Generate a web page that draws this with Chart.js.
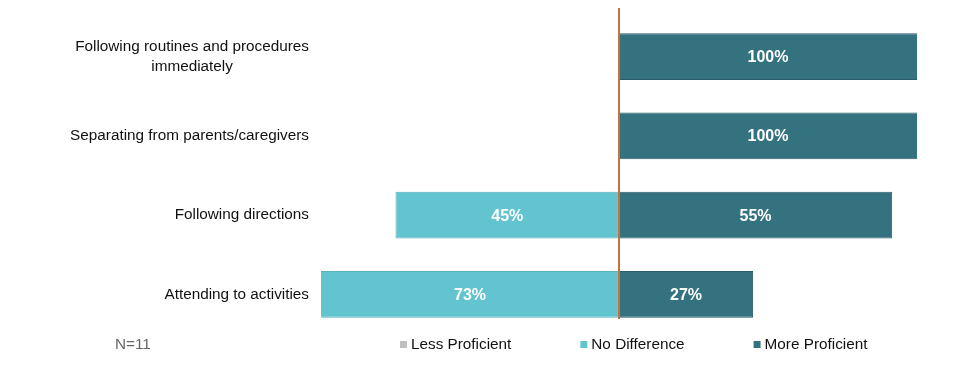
<!DOCTYPE html>
<html>
<head>
<meta charset="utf-8">
<script src="https://cdn.jsdelivr.net/npm/chart.js@4.4.1/dist/chart.umd.min.js"></script>
<style>
  html, body { margin: 0; padding: 0; background: #fff; }
  #wrap { width: 971px; height: 384px; }
</style>
</head>
<body>
<div id="wrap"><canvas id="chart" width="971" height="384"></canvas></div>
<script>
const categories = [
    ['Following routines and procedures', 'immediately'],
    'Separating from parents/caregivers',
    'Following directions',
    'Attending to activities',
];
const lessProficient = [0, 0, 0, 0];
const noDifference = [0, 0, 45, 73];
const moreProficient = [100, 100, 55, 27];
const sampleNote = 'N=11';

const FONT = '"Liberation Sans", Arial, sans-serif';
const colors = {
    less: '#BFBFBF',
    noDiff: '#62C4CF',
    noDiffBorder: '#55B3BF',
    more: '#347280',
    moreBorder: '#2A5D6A',
    zeroLine: '#C8703C',
};

// category labels drawn beside the bars (multi-line label centred on itself)
const categoryLabels = {
    id: 'categoryLabels',
    afterDraw(chart) {
        const { ctx, chartArea, scales: { y } } = chart;
        const right = chartArea.left - 12;
        ctx.save();
        ctx.font = '15.3px ' + FONT;
        ctx.fillStyle = '#111';
        ctx.textBaseline = 'middle';
        chart.data.labels.forEach((label, i) => {
            const yc = y.getPixelForValue(i);
            if (Array.isArray(label)) {
                const widest = Math.max(...label.map(l => ctx.measureText(l).width));
                ctx.textAlign = 'center';
                const lineH = 20;
                const top = yc - (label.length - 1) * lineH / 2;
                label.forEach((line, j) => ctx.fillText(line, right - widest / 2, top + j * lineH));
            } else {
                ctx.textAlign = 'right';
                ctx.fillText(label, right, yc);
            }
        });
        ctx.restore();
    }
};

// zero line and value labels on top of the bars
const barExtras = {
    id: 'barExtras',
    afterDatasetsDraw(chart) {
        const { ctx, chartArea, scales: { x } } = chart;
        ctx.save();
        const x0 = x.getPixelForValue(0);
        ctx.strokeStyle = colors.zeroLine;
        ctx.lineWidth = 2;
        ctx.beginPath();
        ctx.moveTo(x0, 8);
        ctx.lineTo(x0, 319);
        ctx.stroke();

        ctx.font = 'bold 16px ' + FONT;
        ctx.fillStyle = '#fff';
        ctx.textAlign = 'center';
        ctx.textBaseline = 'middle';
        chart.data.datasets.forEach((ds, di) => {
            const meta = chart.getDatasetMeta(di);
            meta.data.forEach((el, i) => {
                const v = ds.data[i];
                if (!v) return;
                const a = Math.max(chartArea.left, Math.min(el.x, el.base));
                const b = Math.min(chartArea.right, Math.max(el.x, el.base));
                ctx.fillText(Math.abs(v) + '%', (a + b) / 2, el.y + 1);
            });
        });
        ctx.restore();
    }
};

// legend row and sample size note
const footer = {
    id: 'footer',
    afterDraw(chart) {
        const { ctx, chartArea } = chart;
        const yc = 345;
        ctx.save();
        ctx.font = '15.3px ' + FONT;
        ctx.textBaseline = 'middle';
        ctx.textAlign = 'left';
        ctx.fillStyle = '#666';
        ctx.fillText(sampleNote, 115, yc);

        let lx = chartArea.left + 79;
        chart.data.datasets.forEach(ds => {
            ctx.fillStyle = ds.backgroundColor;
            ctx.fillRect(lx, yc - 4, 7, 7);
            ctx.fillStyle = '#111';
            ctx.fillText(ds.label, lx + 11, yc);
            lx += 11 + ctx.measureText(ds.label).width + 69;
        });
        ctx.restore();
    }
};

new Chart(document.getElementById('chart'), {
    type: 'bar',
    data: {
        labels: categories,
        datasets: [
            {
                label: 'Less Proficient',
                data: lessProficient.map(v => -v),
                backgroundColor: colors.less,
                borderWidth: 0,
            },
            {
                label: 'No Difference',
                data: noDifference.map(v => -v),
                backgroundColor: colors.noDiff,
                borderColor: colors.noDiffBorder,
                borderWidth: 1,
            },
            {
                label: 'More Proficient',
                data: moreProficient,
                backgroundColor: colors.more,
                borderColor: colors.moreBorder,
                borderWidth: 1,
            },
        ]
    },
    options: {
        indexAxis: 'y',
        responsive: false,
        animation: false,
        layout: { padding: { left: 321, right: 54, top: 17, bottom: 50 } },
        datasets: { bar: { clip: 0, categoryPercentage: 1, barPercentage: 0.59, borderSkipped: false } },
        scales: {
            x: { stacked: true, min: -60, max: 60, display: false },
            y: { stacked: true, display: false },
        },
        plugins: {
            legend: { display: false },
            tooltip: { enabled: false },
        }
    },
    plugins: [categoryLabels, barExtras, footer]
});
</script>
</body>
</html>
